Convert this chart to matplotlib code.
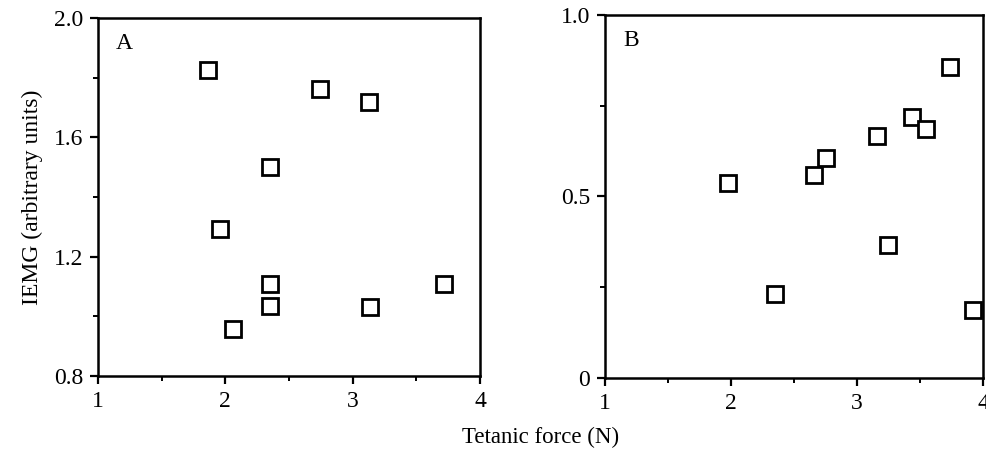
import matplotlib
matplotlib.use("Agg")
import matplotlib.pyplot as plt
from matplotlib.ticker import MultipleLocator

# === DATOS ===
# Panel A
force_a = [1.86, 2.74, 3.13, 2.35, 1.96, 2.35, 3.72, 2.35, 3.14, 2.06]
iemg_a = [1.826, 1.763, 1.718, 1.502, 1.294, 1.109, 1.109, 1.035, 1.030, 0.956]
# Panel B
force_b = [1.98, 2.35, 2.66, 2.755, 3.157, 3.249, 3.44, 3.548, 3.738, 3.923]
iemg_b = [0.538, 0.231, 0.560, 0.607, 0.667, 0.366, 0.720, 0.687, 0.858, 0.187]

xticks = [1, 2, 3, 4]
yticks_a = [0.8, 1.2, 1.6, 2.0]
yticks_b = [0, 0.5, 1.0]
ytick_labels_a = ["0.8", "1.2", "1.6", "2.0"]
ytick_labels_b = ["0", "0.5", "1.0"]

plt.rcParams['font.family'] = ['Liberation Serif', 'DejaVu Serif']

fig = plt.figure(figsize=(9.86, 4.5), dpi=100)
ax_a = fig.add_axes([0.0994, 0.1644, 0.3874, 0.7956])
ax_b = fig.add_axes([0.6133, 0.160, 0.3837, 0.8067])


def estilo(ax, ylim, yticks, ylabels, ymin, letra):
    ax.set_xlim(1, 4)
    ax.set_ylim(*ylim)
    ax.set_xticks(xticks)
    ax.set_xticklabels([str(t) for t in xticks])
    ax.set_yticks(yticks)
    ax.set_yticklabels(ylabels)
    ax.xaxis.set_minor_locator(MultipleLocator(0.5))
    ax.yaxis.set_minor_locator(MultipleLocator(ymin))
    ax.tick_params(which='major', direction='out', length=5.5, width=1.6,
                   labelsize=17, top=False, right=False, pad=5)
    ax.tick_params(which='minor', direction='out', length=3.5, width=1.4,
                   top=False, right=False)
    for s in ax.spines.values():
        s.set_linewidth(1.8)
    ax.text(0.07, 0.93, letra, transform=ax.transAxes, fontsize=17,
            ha='center', va='center')


ax_a.plot(force_a, iemg_a, linestyle='none', marker='s', markersize=11.5,
          markerfacecolor='white', markeredgecolor='black', markeredgewidth=2.0,
          clip_on=False)
ax_b.plot(force_b, iemg_b, linestyle='none', marker='s', markersize=11.5,
          markerfacecolor='white', markeredgecolor='black', markeredgewidth=2.0,
          clip_on=False)

estilo(ax_a, (0.8, 2.0), yticks_a, ytick_labels_a, 0.2, "A")
estilo(ax_b, (0, 1.0), yticks_b, ytick_labels_b, 0.25, "B")

ax_a.set_ylabel("IEMG (arbitrary units)", fontsize=17, labelpad=8)
fig.text(0.548, 0.028, "Tetanic force (N)", fontsize=16.5, ha='center', va='center')

fig.savefig("out.png", dpi=100)
